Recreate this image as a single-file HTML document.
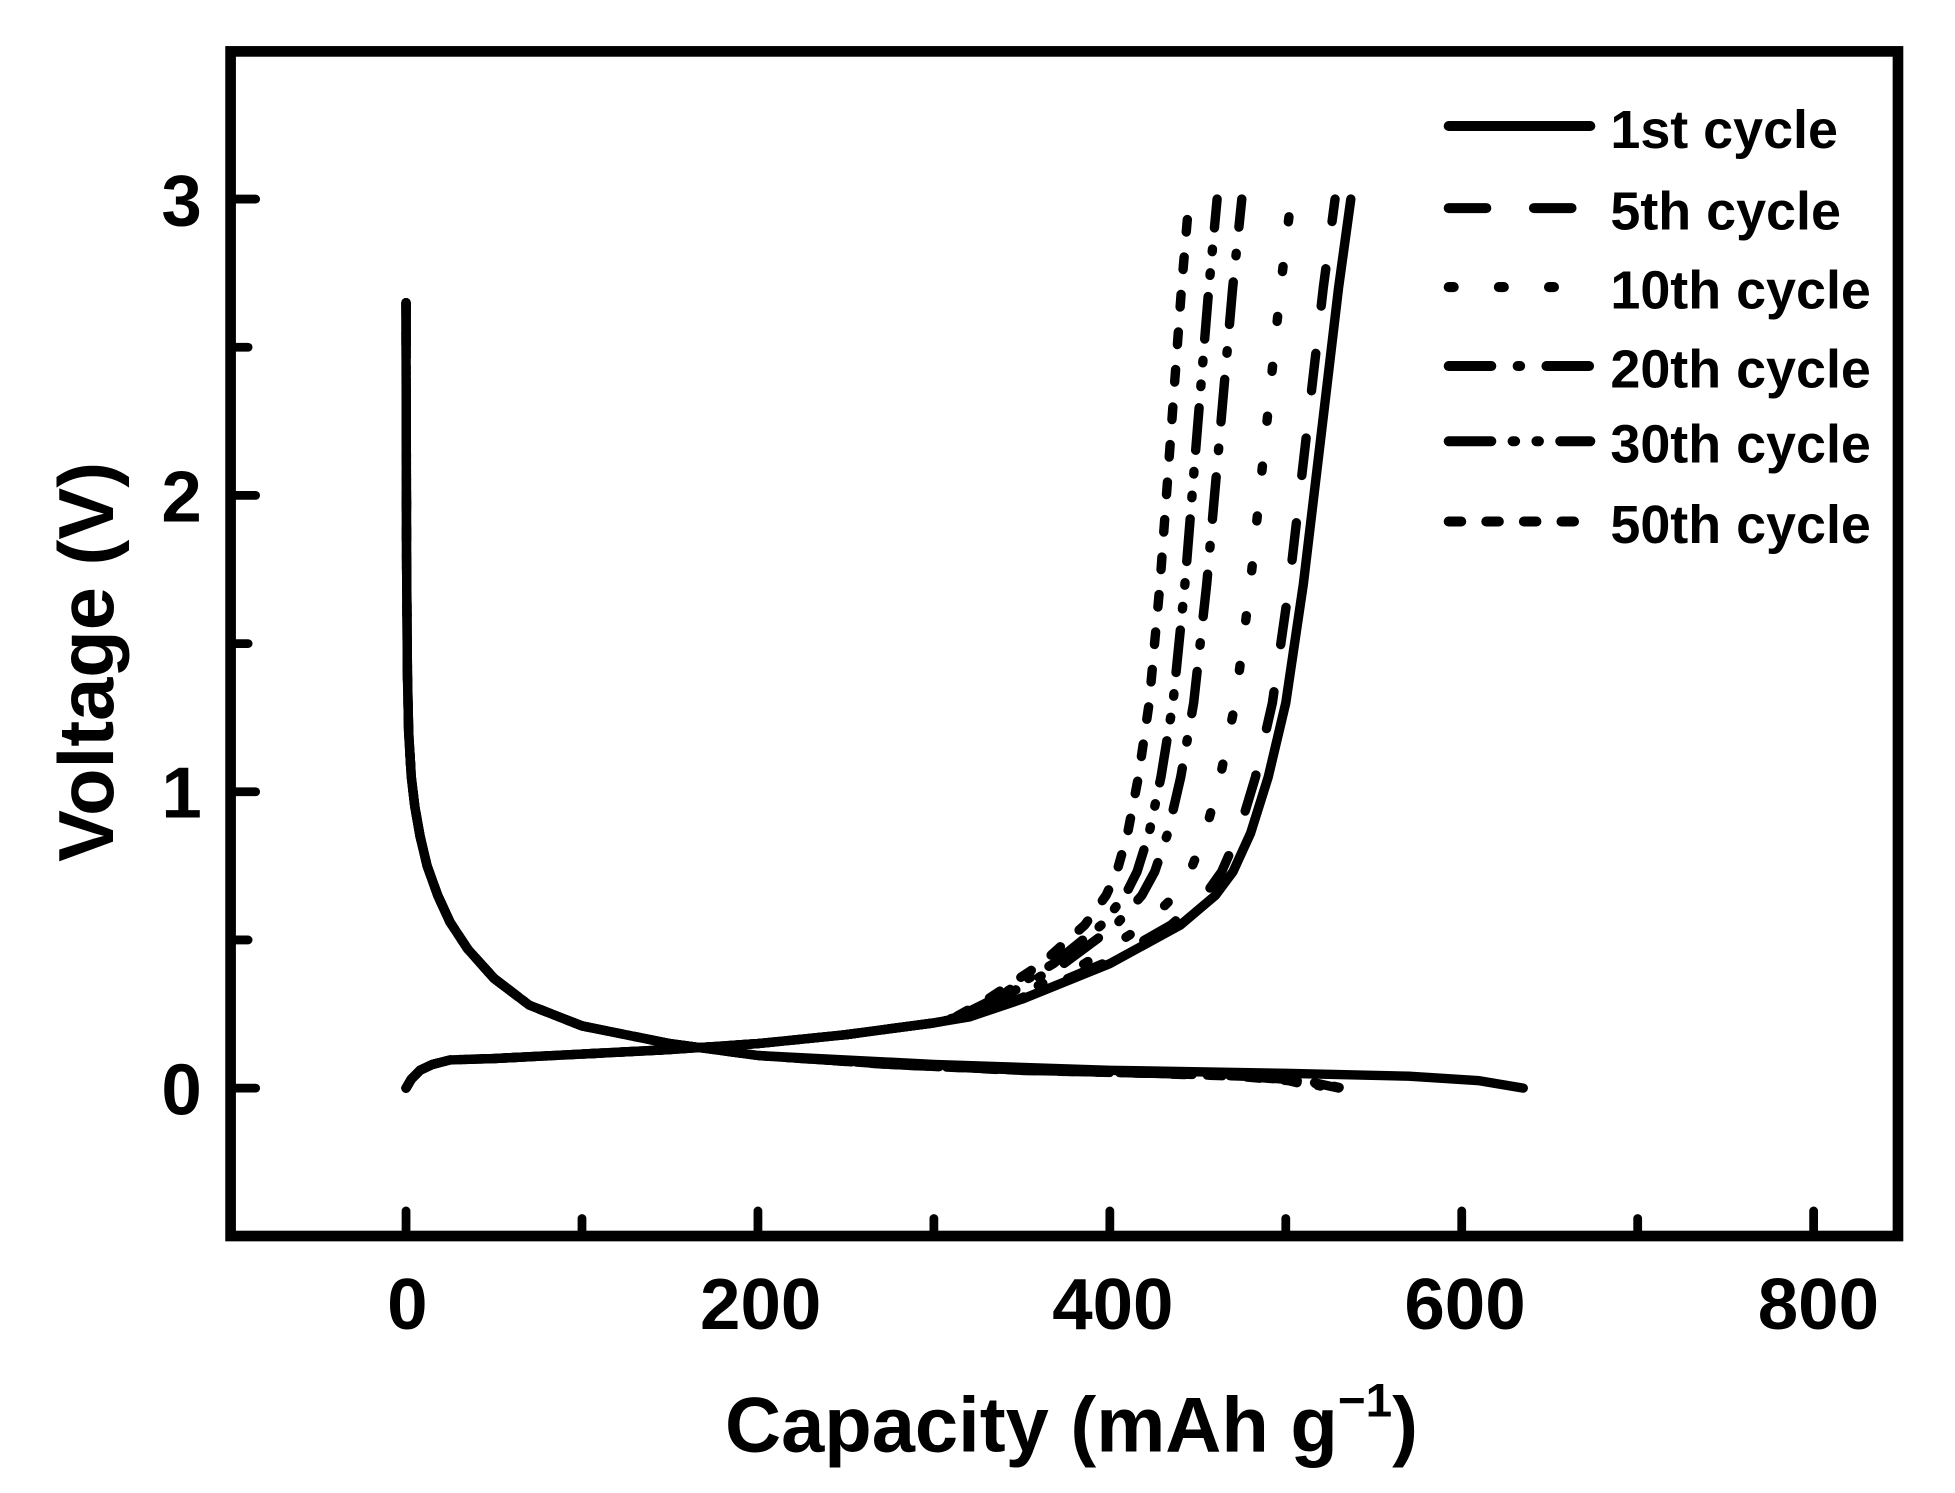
<!DOCTYPE html>
<html><head><meta charset="utf-8"><style>
html,body{margin:0;padding:0;background:#fff;}
svg{display:block;}
text{font-family:"Liberation Sans",Arial,sans-serif;font-weight:bold;fill:#000;}
</style></head><body>
<svg id="s" width="1955" height="1493" viewBox="0 0 1560 1191" preserveAspectRatio="none" xmlns="http://www.w3.org/2000/svg">
<rect x="0" y="0" width="1560" height="1191" fill="#fff"/>
<g id="curves" fill="none" stroke="#000" stroke-width="7.5" stroke-linejoin="round" stroke-linecap="round"></g>
<rect x="184" y="41" width="1330.5" height="945" fill="none" stroke="#000" stroke-width="8.5"/>
<g stroke="#000" stroke-width="7" stroke-linecap="round">
<line x1="324" y1="986" x2="324" y2="966"/><line x1="464.4" y1="986" x2="464.4" y2="972"/>
<line x1="604.8" y1="986" x2="604.8" y2="966"/><line x1="745.2" y1="986" x2="745.2" y2="972"/>
<line x1="885.6" y1="986" x2="885.6" y2="966"/><line x1="1026" y1="986" x2="1026" y2="972"/>
<line x1="1166.4" y1="986" x2="1166.4" y2="966"/><line x1="1306.8" y1="986" x2="1306.8" y2="972"/>
<line x1="1447.2" y1="986" x2="1447.2" y2="966"/>
<line x1="184" y1="868" x2="204" y2="868"/><line x1="184" y1="749.8" x2="198" y2="749.8"/>
<line x1="184" y1="631.6" x2="204" y2="631.6"/><line x1="184" y1="513.4" x2="198" y2="513.4"/>
<line x1="184" y1="395.2" x2="204" y2="395.2"/><line x1="184" y1="277" x2="198" y2="277"/>
<line x1="184" y1="158.8" x2="204" y2="158.8"/>
</g>
<g font-size="58" text-anchor="middle">
<text x="325" y="1060">0</text><text x="607" y="1060">200</text><text x="888" y="1060">400</text>
<text x="1169" y="1060">600</text><text x="1451" y="1060">800</text>
</g>
<g font-size="58" text-anchor="end">
<text x="161" y="889">0</text><text x="161" y="652">1</text><text x="161" y="416">2</text><text x="161" y="180">3</text>
</g>
<text x="855" y="1158" font-size="62" text-anchor="middle">Capacity (mAh g<tspan font-size="38" dy="-28">−1</tspan><tspan dy="28">)</tspan></text>
<text transform="translate(90,528) rotate(-90)" font-size="62" text-anchor="middle">Voltage (V)</text>
<g stroke="#000" stroke-width="8" fill="none" stroke-linecap="round">
<line x1="1156" y1="100.5" x2="1269" y2="100.5"/>
<line x1="1156" y1="166" x2="1269" y2="166" stroke-dasharray="30 38"/>
<line x1="1156" y1="229" x2="1269" y2="229" stroke-dasharray="4 36"/>
<line x1="1156" y1="292" x2="1269" y2="292" stroke-dasharray="34 21 2 21"/>
<line x1="1156" y1="352" x2="1269" y2="352" stroke-dasharray="34 17 2 17 2 17"/>
<line x1="1156" y1="416" x2="1269" y2="416" stroke-dasharray="10 20"/>
</g>
<g font-size="43">
<text x="1285" y="118">1st cycle</text><text x="1285" y="183">5th cycle</text>
<text x="1285" y="246">10th cycle</text><text x="1285" y="309">20th cycle</text>
<text x="1285" y="369">30th cycle</text><text x="1285" y="433">50th cycle</text>
</g>
</svg>
<script>
(function(){
var g=document.getElementById('curves');
function px(x){return 324+1.404*x;} function py(v){return 868-236.4*v;}
var dis=[[0,2.6],[0.3,1.8],[0.8,1.4],[1.5,1.2],[3,1.05],[5,0.95],[8,0.85],[12,0.75],[18,0.65],[25,0.56],[35,0.47],[50,0.37],[70,0.28],[100,0.21],[150,0.15],[200,0.11],[300,0.08],[400,0.06],[500,0.05],[570,0.04],[610,0.025],[635,0]];
var ch=[[0,0],[3,0.03],[8,0.06],[15,0.08],[25,0.095],[50,0.1],[150,0.13],[200,0.15],[250,0.18],[300,0.22],[320,0.24],[350,0.3],[400,0.42],[440,0.55],[460,0.65],[470,0.73],[480,0.86],[490,1.05],[500,1.3],[510,1.7],[520,2.2],[530,2.7],[537,3.0]];
var cyc=[[537,635,'',2.55],[528,530,'30 38',2.65],[503,532,'4 36',2.65],[475,528,'34 21 2 21',2.65],[461,525,'34 17 2 17 2 17',2.65],[445,520,'10 20',2.65]];
cyc.forEach(function(c){
 var E=c[0],D=c[1];
 var p=dis.map(function(q,i){var x=q[0],v=q[1];if(i==0)v=c[3];if(x>200)x=200+(x-200)*(D-200)/435;return px(x).toFixed(1)+','+py(v).toFixed(1);});
 var p2=ch.map(function(q){var x=q[0];if(x>300)x=300+(x-300)*(E-300)/237;return px(x).toFixed(1)+','+py(q[1]).toFixed(1);});
 [p,p2].forEach(function(pts){
  var e=document.createElementNS('http://www.w3.org/2000/svg','polyline');
  e.setAttribute('points',pts.join(' '));
  if(c[2])e.setAttribute('stroke-dasharray',c[2]);
  g.appendChild(e);
 });
});
})();
</script>
</body></html>
